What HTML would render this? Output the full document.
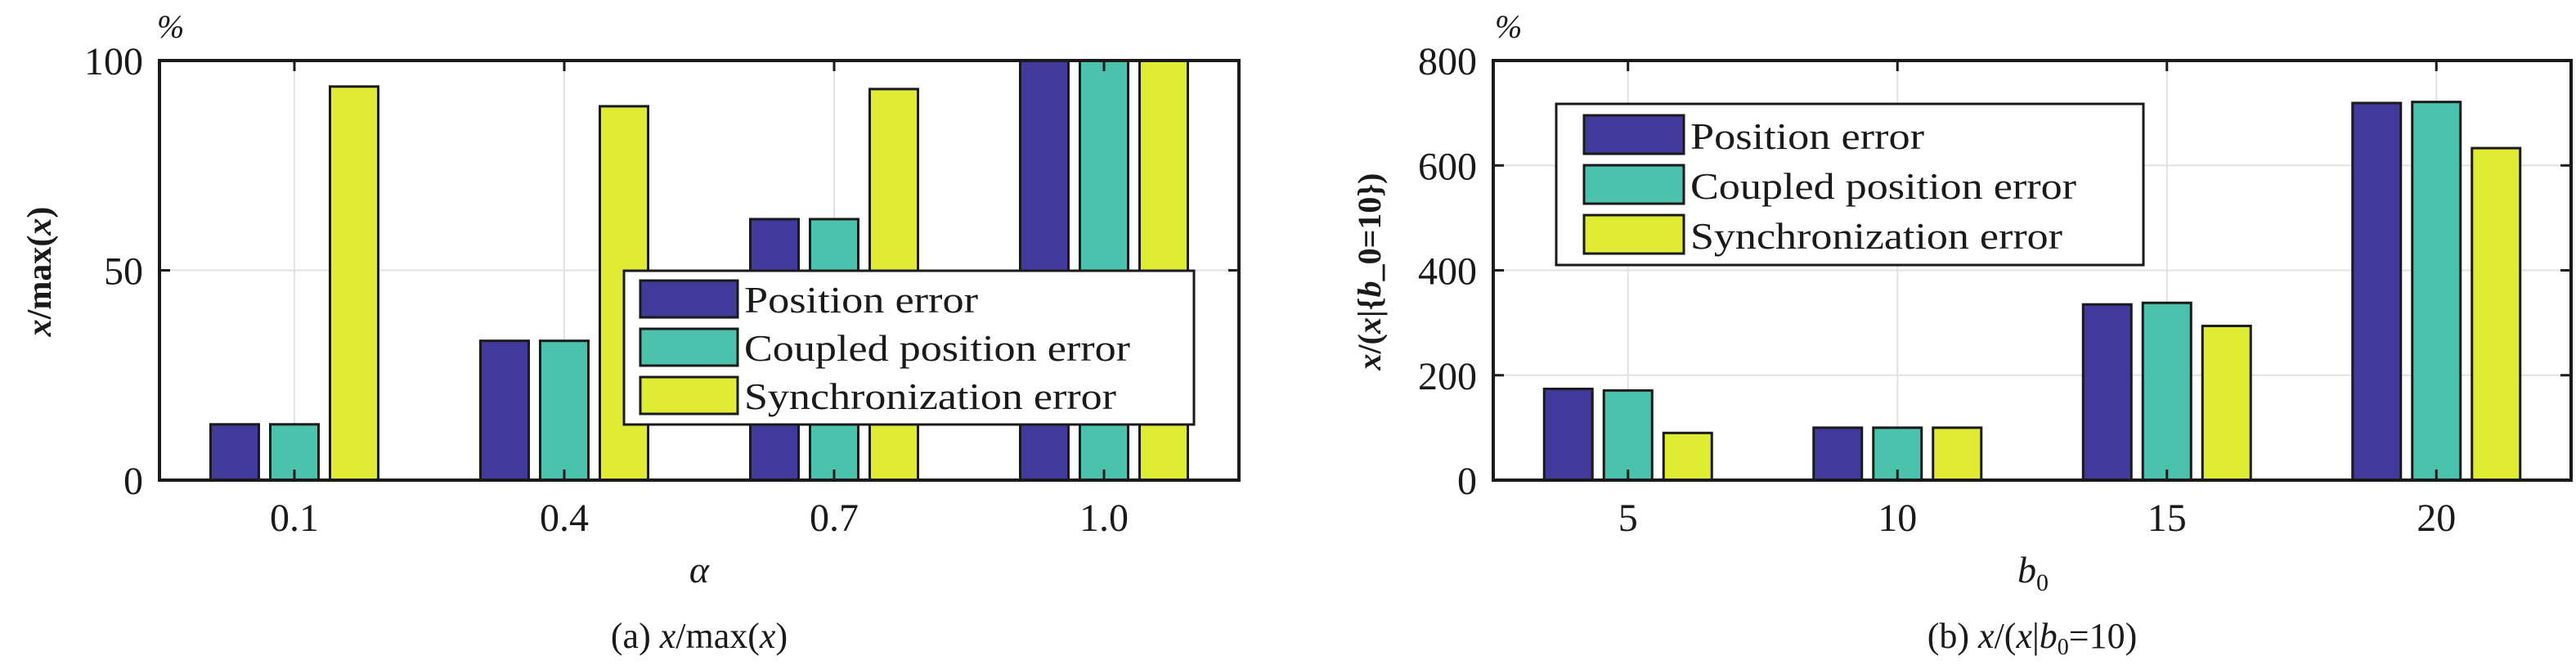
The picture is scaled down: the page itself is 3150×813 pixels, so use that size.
<!DOCTYPE html>
<html><head><meta charset="utf-8"><style>
html,body{margin:0;padding:0;background:#fff}
svg{display:block}
text{font-family:"Liberation Serif",serif;fill:#1a1a1a}
</style></head><body>
<svg id="fig" width="3150" height="813" viewBox="0 0 3150 813" xmlns="http://www.w3.org/2000/svg"></svg>
<script>
const seriesNames = ["Position error","Coupled position error","Synchronization error"];
const seriesColors = ["#41399b","#4bc2ab","#e0eb33"];
// Panel (a)
const catsA = ["0.1","0.4","0.7","1.0"];
const posA = [13.3, 33.2, 62.2, 100];
const coupA = [13.3, 33.2, 62.2, 100];
const syncA = [93.8, 89.1, 93.2, 100];
const ticksA = [0, 50, 100];
// Panel (b)
const catsB = ["5","10","15","20"];
const posB = [174, 100, 335, 719];
const coupB = [171, 100, 338, 721];
const syncB = [90, 100, 294, 633];
const ticksB = [0, 200, 400, 600, 800];

const NS="http://www.w3.org/2000/svg";
const svg=document.getElementById('fig');
function mk(tag,attrs,parent){const e=document.createElementNS(NS,tag);for(const k in attrs)e.setAttribute(k,attrs[k]);(parent||svg).appendChild(e);return e;}

function panel(cfg){
  const g=mk('g',{});
  
  
  const x0=cfg.x0,x1=cfg.x1,y0=74,y1=587;
  const ymax=cfg.ticks[cfg.ticks.length-1];
  const ys=v=>y1-(v/ymax)*(y1-y0);
  const gw=(x1-x0)/cfg.cats.length;
  const xc=i=>x0+gw*(i+0.5);
  // grid
  cfg.ticks.forEach(t=>{if(t>0&&t<ymax){const l=mk('line',{x1:x0,x2:x1,y1:ys(t),y2:ys(t),stroke:'#e2e2e2','stroke-width':2},g);
    }});
  cfg.cats.forEach((c,i)=>{const l=mk('line',{x1:xc(i),x2:xc(i),y1:y0,y2:y1,stroke:'#e2e2e2','stroke-width':2},g);
    });
  // bars
  const bw=59, off=[-73,0,73];
  cfg.series.forEach((arr,s)=>{
    arr.forEach((v,i)=>{
      const r=mk('rect',{x:xc(i)+off[s]-bw/2,y:ys(v),width:bw,height:y1-ys(v),fill:seriesColors[s],stroke:'#1a1a1a','stroke-width':3},g);
      
      
    });
  });
  // axes box
  const box=mk('rect',{x:x0,y:y0,width:x1-x0,height:y1-y0,fill:'none',stroke:'#1a1a1a','stroke-width':4},g);
  
  // ticks
  cfg.cats.forEach((c,i)=>{
    mk('line',{x1:xc(i),x2:xc(i),y1:y1,y2:y1-13,stroke:'#1a1a1a','stroke-width':3},g);
    mk('line',{x1:xc(i),x2:xc(i),y1:y0,y2:y0+13,stroke:'#1a1a1a','stroke-width':3},g);
    const t=mk('text',{x:xc(i),y:649,'font-size':48,'text-anchor':'middle'},g);t.textContent=c;
    
  });
  cfg.ticks.forEach(tv=>{
    mk('line',{x1:x0,x2:x0+13,y1:ys(tv),y2:ys(tv),stroke:'#1a1a1a','stroke-width':3},g);
    mk('line',{x1:x1,x2:x1-13,y1:ys(tv),y2:ys(tv),stroke:'#1a1a1a','stroke-width':3},g);
    const t=mk('text',{x:x0-20,y:ys(tv)+17,'font-size':48,'text-anchor':'end'},g);t.textContent=tv;
    
  });
  // percent
  const p=mk('text',{x:x0+(cfg.key==='a'?-3:2),y:46,'font-size':40,'font-style':'italic'},g);p.textContent='%';
  
  // legend
  const L=cfg.leg;
  const lg=mk('g',{},g);
  mk('rect',{x:L.x,y:L.y,width:L.w,height:L.h,fill:'#fff',stroke:'#1a1a1a','stroke-width':3},lg);
  seriesNames.forEach((n,s)=>{
    const ry=L.y+L.pad+s*L.step;
    const sw=mk('rect',{x:L.x+L.sx,y:ry,width:L.sw,height:L.sh,fill:seriesColors[s],stroke:'#1a1a1a','stroke-width':3},lg);
    
    const t=mk('text',{x:L.x+L.sx+L.sw+8,y:ry+L.sh-6,'font-size':46,textLength:L.tl[s],lengthAdjust:'spacingAndGlyphs'},lg);
    t.textContent=n;
  });
  return {g,ys,xc};
}

panel({name:'chart-a',key:'a',x0:195,x1:1515,cats:catsA,series:[posA,coupA,syncA],ticks:ticksA,
  leg:{x:763,y:331,w:697,h:188,pad:12,step:59,sx:20,sw:119,sh:45,tl:[286,472,455]}});
panel({name:'chart-b',key:'b',x0:1826,x1:3144,cats:catsB,series:[posB,coupB,syncB],ticks:ticksB,
  leg:{x:1903,y:127,w:718,h:197,pad:14,step:61,sx:34,sw:122,sh:47,tl:[286,472,455]}});

// axis labels & captions
function txt(html,attrs,name){const t=mk('text',attrs);t.innerHTML=html;return t;}
txt('<tspan font-style="italic">x</tspan>/max(<tspan font-style="italic">x</tspan>)',{x:0,y:0,'font-size':42,'font-weight':'bold','text-anchor':'middle',transform:'translate(62,332) rotate(-90)'},'y-axis-title-a');
txt('<tspan font-style="italic">x</tspan>/(<tspan font-style="italic">x</tspan>|{<tspan font-style="italic">b</tspan>_0=10})',{x:0,y:0,'font-size':40,'font-weight':'bold','text-anchor':'middle',transform:'translate(1688,332) rotate(-90)'},'y-axis-title-b');
txt('α',{x:855,y:712,'font-size':46,'font-style':'italic','text-anchor':'middle'},'x-axis-title-a');
txt('<tspan font-style="italic">b</tspan><tspan font-size="30" dy="10">0</tspan>',{x:2486,y:712,'font-size':46,'text-anchor':'middle'},'x-axis-title-b');
txt('(a) <tspan font-style="italic">x</tspan>/max(<tspan font-style="italic">x</tspan>)',{x:855,y:792,'font-size':44,'text-anchor':'middle'},'caption-a');
txt('(b) <tspan font-style="italic">x</tspan>/(<tspan font-style="italic">x</tspan>|<tspan font-style="italic">b</tspan><tspan font-size="28" dy="8">0</tspan><tspan dy="-8">=10)</tspan>',{x:2485,y:792,'font-size':44,'text-anchor':'middle'},'caption-b');
</script>
</body></html>
